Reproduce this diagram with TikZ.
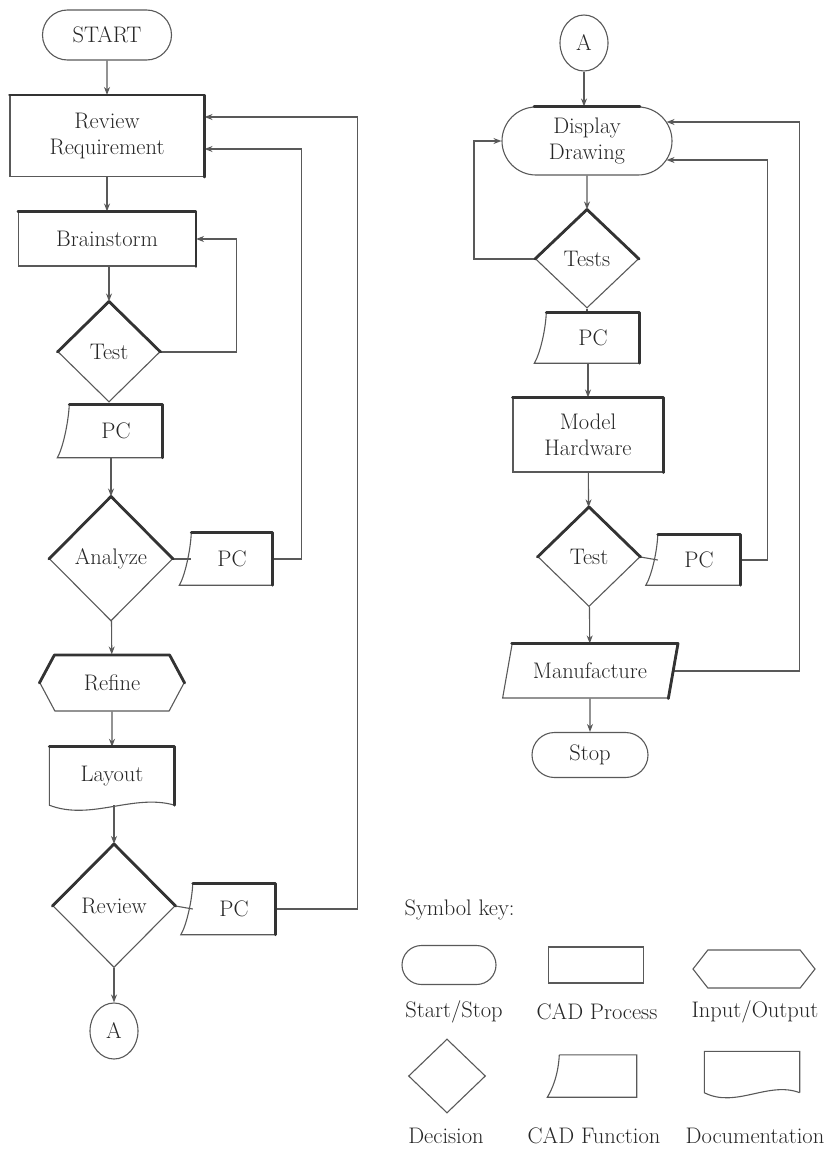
\documentclass[tikz,border=0pt]{standalone}
\usetikzlibrary{shapes.geometric,shapes.misc,shapes.symbols,arrows.meta,calc}

\tikzset{
  shp/.style={draw=black!65, line width=1.1pt},
  heavy/.style={draw=black!80, line width=2.8pt, line cap=round, line join=round},
  arr/.style={shp, -{Stealth[length=8pt,width=6pt]}},
  box/.style={rectangle, shp, inner sep=2pt, align=center},
  term/.style={rounded rectangle, shp, inner sep=2pt, align=center},
  decide/.style={diamond, shp, inner sep=0pt},
  conn/.style={ellipse, shp, minimum width=48, minimum height=56, inner sep=0pt},
  iobox/.style={signal, signal to=west and east, shp, inner sep=2pt},
  fnbox/.style={rectangle, inner sep=0pt},  % outline from \cadfn
  docbox/.style={rectangle, inner sep=0pt}, % outline from \docshape
}

% CAD function: box with the left side swept out at the foot
\newcommand{\cadfn}[1]{\draw[shp] (#1.north west) -- (#1.north east) -- (#1.south east)
  -- ($(#1.south west)+(-12,0)$) .. controls ($(#1.south west)+(-7,-8)$) and ($(#1.north west)+(-1,20)$) .. (#1.north west);}
% documentation: box with a wavy foot
\newcommand{\docshape}[1]{\draw[shp] (#1.south east) -- (#1.north east) -- (#1.north west) -- (#1.south west)
  .. controls ($(#1.south west)!0.33!(#1.south east)+(0,16)$) and ($(#1.south west)!0.67!(#1.south east)+(0,-12)$) .. (#1.south east);}
% the darker top and right edges of the print
\newcommand{\heavybox}[1]{\draw[heavy] (#1.north west) -- (#1.north east) -- (#1.south east);}
\newcommand{\heavydiam}[1]{\draw[heavy] (#1.west) -- (#1.north) -- (#1.east);}

\begin{document}
\begin{tikzpicture}[x=1pt,y=-1pt,
   every node/.style={font=\fontsize{22.5}{26}\selectfont, text=black!85}]
\useasboundingbox (0,0) rectangle (829,1151);

% left column
\node[term, minimum width=133, minimum height=50] (start) at (107,35) {START};
\node[box, minimum width=194, minimum height=81] (rr) at (107,136) {Review\\Requirement};
\node[box, minimum width=177, minimum height=54] (brain) at (107,239) {Brainstorm};
\node[decide, minimum width=102, minimum height=100] (test1) at (109,352) {Test};
\node[fnbox, minimum width=93, minimum height=53] (pc1) at (116,431) {PC};
\node[decide, minimum width=123, minimum height=124] (an) at (111,559) {Analyze};
\node[fnbox, minimum width=81, minimum height=52] (pc2) at (232,559) {PC};
\node[iobox, signal pointer angle=124, minimum width=144, minimum height=56] (refine) at (112,683) {Refine};
\node[docbox, minimum width=125, minimum height=58] (layout) at (112,776) {Layout};
\node[decide, minimum width=122, minimum height=123] (rev) at (114,906) {Review};
\node[fnbox, minimum width=82, minimum height=51] (pc3) at (234,909) {PC};
\node[conn] (a1) at (114,1031) {A};

\draw[arr] (start) -- (rr);
\draw[arr] (rr) -- (brain);
\draw[arr] (test1.north |- brain.south) -- (test1.north);
\draw[shp] (test1.south) -- (test1.south |- pc1.north);
\draw[arr] (an.north |- pc1.south) -- (an.north);
\draw[arr] (an) -- (refine);
\draw[arr] (refine) -- (layout);
\draw[arr] (rev.north |- layout.south) -- (rev.north);
\draw[arr] (rev) -- (a1);
\draw[shp] (an.east) -- (pc2.west);
\draw[shp] (rev.east) -- (pc3.west);
% loops back
\draw[arr] (test1.east) -- ++(76,0) |- (brain.east);
\draw[arr] (pc2.east) -- ++(29,0) |- ($(rr.east)+(0,13)$);
\draw[arr] (pc3.east) -- ++(82,0) |- ($(rr.east)+(0,-19)$);

% right column
\node[conn] (a2) at (584,43) {A};
\node[term, minimum width=174, minimum height=68] (disp) at (587,141) {Display\\Drawing};
\node[decide, minimum width=103, minimum height=98] (tests) at (587,259) {Tests};
\node[fnbox, minimum width=93, minimum height=50] (pc4) at (593,338) {PC};
\node[box, minimum width=150, minimum height=74] (mh) at (588,435) {Model\\Hardware};
\node[decide, minimum width=102, minimum height=99] (test2) at (589,557) {Test};
\node[fnbox, minimum width=82, minimum height=50] (pc5) at (699,560) {PC};
\node[trapezium, trapezium left angle=72, trapezium right angle=108, trapezium stretches=true,
      shp, minimum width=175, minimum height=54] (manu) at (590,671) {Manufacture};
\node[term, minimum width=120, minimum height=45] (stop) at (590,755) {Stop};

\draw[arr] (a2.south) -- (a2.south |- disp.north);
\draw[arr] (disp) -- (tests);
\draw[shp] (tests.south) -- (tests.south |- pc4.north);
\draw[arr] (mh.north |- pc4.south) -- (mh.north);
\draw[arr] (mh) -- (test2);
\draw[shp] (test2.east) -- (pc5.west);
\draw[arr] (test2) -- (manu);
\draw[arr] (manu) -- (stop);
% loops back
\draw[arr] (tests.west) -- ++(-61,0) |- (disp.west);
\draw[arr] (pc5.east) -- ++(27,0) |- ($(disp.east)+(-6,19)$);
\draw[arr] (manu.east) -- ++(126,0) |- ($(disp.east)+(-6,-19)$);

% symbol key
\node[anchor=west] (keyttl) at (401,910) {Symbol key:};
\node[term, minimum width=98, minimum height=39] (ktrm) at (449,965) {};
\node[box, minimum width=95, minimum height=36] (kbox) at (596,965) {};
\node[iobox, signal pointer angle=104, minimum width=122, minimum height=38] (kio) at (754,969) {};
\node[decide, minimum width=77, minimum height=74] (kdec) at (447,1076) {};
\node[fnbox, minimum width=77, minimum height=42] (kfn) at (598,1076) {};
\node[docbox, minimum width=95, minimum height=41] (kdoc) at (752,1072) {};
\node (ltrm) at (454,1012) {Start/Stop};
\node (lbox) at (597,1012) {CAD Process};
\node (lio) at (755,1012) {Input/Output};
\node (ldec) at (446,1136) {Decision};
\node (lfn) at (594,1136) {CAD Function};
\node (ldoc) at (755,1136) {Documentation};

% outlines of the drawn shapes
\foreach \n in {pc1,pc2,pc3,pc4,pc5,kfn} \cadfn{\n};
\foreach \n in {layout,kdoc} \docshape{\n};
\foreach \n in {rr,brain,pc1,pc2,pc3,layout,pc4,mh,pc5} \heavybox{\n};
\foreach \n in {test1,an,rev,tests,test2} \heavydiam{\n};
\draw[heavy] (manu.top left corner) -- (manu.top right corner) -- (manu.bottom right corner);
\draw[heavy] (refine.west) -- ++(15,-28) -- ($(refine.east)+(-15,-28)$) -- (refine.east);
\draw[heavy] ($(disp.north)+(-53,0)$) -- ($(disp.north)+(53,0)$);
\end{tikzpicture}
\end{document}
